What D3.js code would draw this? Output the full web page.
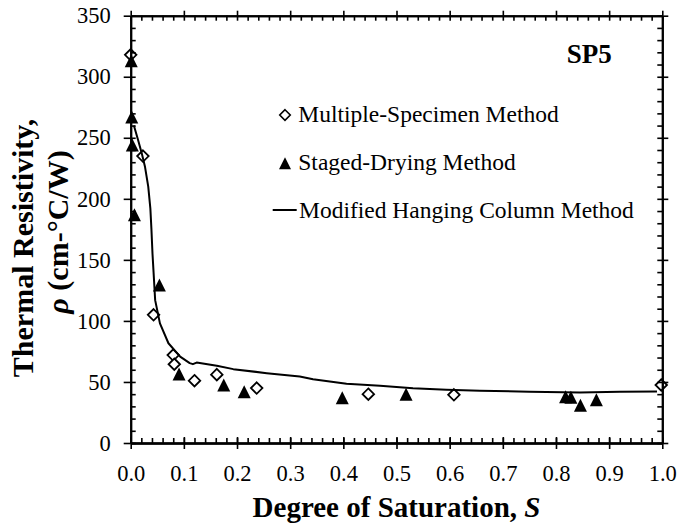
<!DOCTYPE html>
<html>
<head>
<meta charset="utf-8">
<script src="https://cdn.jsdelivr.net/npm/d3@7"></script>
<style>
  html, body { margin: 0; padding: 0; background: #fff; }
  svg { display: block; }
  text { font-family: "Liberation Serif", "Times New Roman", serif; fill: #000; }
</style>
</head>
<body>
<svg id="chart" width="681" height="524"></svg>
<script>
// Thermal resistivity vs. degree of saturation, specimen SP5

// Multiple-Specimen Method (open diamonds)
const msSat = [0.000, 0.023, 0.043, 0.080, 0.082, 0.120, 0.162, 0.237, 0.447, 0.608, 0.998];
const msRho = [318, 235, 105, 72, 64.5, 51, 56, 45, 40, 39.5, 47.5];

// Staged-Drying Method (filled triangles)
const sdSat = [0.001, 0.002, 0.003, 0.007, 0.054, 0.091, 0.175, 0.2135, 0.398, 0.518, 0.818, 0.828, 0.846, 0.876];
const sdRho = [313, 267, 244, 187, 129.5, 56.5, 47.5, 42, 37, 40, 37.8, 37.4, 31, 35.5];

// Modified Hanging Column Method (continuous curve)
const mhcSat = [0.006, 0.014, 0.021, 0.027, 0.033, 0.037, 0.039, 0.041, 0.043, 0.046, 0.055,
                0.071, 0.093, 0.111, 0.117, 0.124, 0.162, 0.193, 0.256, 0.318, 0.343, 0.406,
                0.469, 0.531, 0.594, 0.657, 0.750, 0.845, 0.920, 0.990];
const mhcRho = [260, 248, 237, 226, 210, 192, 175, 155, 140, 117, 98,
                81.7, 70.8, 65.4, 64.6, 65.9, 63.2, 60.5, 57.2, 54.4, 52.3, 48.5,
                46.8, 44.9, 43.6, 42.8, 42.0, 41.4, 42.0, 42.2];

// Axis ticks
const xMajor = [0, 0.1, 0.2, 0.3, 0.4, 0.5, 0.6, 0.7, 0.8, 0.9, 1.0];
const xMinor = d3.range(0, 51).map(i => i / 50);
const yMajor = [0, 50, 100, 150, 200, 250, 300, 350];
const yMinor = d3.range(0, 36).map(i => i * 10);

const svg = d3.select("#chart");
const plotLeft = 130.7, plotRight = 662.3, plotTop = 15.7, plotBottom = 443;

const x = d3.scaleLinear().domain([0, 1]).range([plotLeft, plotRight]);
const y = d3.scaleLinear().domain([0, 350]).range([plotBottom, plotTop]);

// Marker shapes centred on their bounding box
const triangleType = {
  draw(ctx, size) {
    const w = Math.sqrt(size);
    ctx.moveTo(0, -w / 2);
    ctx.lineTo(w / 2, w / 2);
    ctx.lineTo(-w / 2, w / 2);
    ctx.closePath();
  }
};
const diamondType = {
  draw(ctx, size) {
    const w = Math.sqrt(size);
    ctx.moveTo(0, -w / 2);
    ctx.lineTo(w / 2, 0);
    ctx.lineTo(0, w / 2);
    ctx.lineTo(-w / 2, 0);
    ctx.closePath();
  }
};
const diamondPath = d3.symbol().type(diamondType).size(11.5 * 11.5)();
const trianglePath = d3.symbol().type(triangleType).size(13 * 13)();

// Diamonds
svg.append("g").selectAll("path")
  .data(d3.zip(msSat, msRho))
  .join("path")
  .attr("d", diamondPath)
  .attr("transform", d => `translate(${x(d[0])},${y(d[1])})`)
  .attr("fill", "#fff")
  .attr("stroke", "#000")
  .attr("stroke-width", 1.8);

// Triangles
svg.append("g").selectAll("path")
  .data(d3.zip(sdSat, sdRho))
  .join("path")
  .attr("d", trianglePath)
  .attr("transform", d => `translate(${x(d[0])},${y(d[1])})`)
  .attr("fill", "#000");

// Curve
const line = d3.line().x(d => x(d[0])).y(d => y(d[1]));
svg.append("path")
  .datum(d3.zip(mhcSat, mhcRho))
  .attr("d", line)
  .attr("fill", "none")
  .attr("stroke", "#000")
  .attr("stroke-width", 2)
  .attr("stroke-linejoin", "round");

// Axes: major ticks cross the frame, minor ticks point inward
function styleAxis(g) {
  g.selectAll("path.domain").attr("stroke", "#000").attr("stroke-width", 2);
  g.selectAll(".tick line").attr("stroke", "#000").attr("stroke-width", 1.6);
}
const fmtX = d3.format(".1f");
const serif = "Liberation Serif, Times New Roman, serif";

// bottom
svg.append("g").attr("transform", `translate(0,${plotBottom})`)
  .call(d3.axisBottom(x).tickValues(xMajor).tickSize(6).tickSizeOuter(0).tickPadding(16).tickFormat(fmtX))
  .call(styleAxis)
  .call(g => g.selectAll("text").attr("font-size", 22.5).attr("font-family", serif));
svg.append("g").attr("transform", `translate(0,${plotBottom})`)
  .call(d3.axisTop(x).tickValues(xMajor).tickSize(6).tickSizeOuter(0).tickFormat(""))
  .call(styleAxis);
svg.append("g").attr("transform", `translate(0,${plotBottom})`)
  .call(d3.axisTop(x).tickValues(xMinor).tickSize(5).tickSizeOuter(0).tickFormat(""))
  .call(styleAxis);

// top
svg.append("g").attr("transform", `translate(0,${plotTop})`)
  .call(d3.axisTop(x).tickValues(xMajor).tickSize(5).tickSizeOuter(0).tickFormat(""))
  .call(styleAxis);
svg.append("g").attr("transform", `translate(0,${plotTop})`)
  .call(d3.axisBottom(x).tickValues(xMinor).tickSize(5).tickSizeOuter(0).tickFormat(""))
  .call(styleAxis);

// left
svg.append("g").attr("transform", `translate(${plotLeft},0)`)
  .call(d3.axisLeft(y).tickValues(yMajor).tickSize(7).tickSizeOuter(0).tickPadding(13))
  .call(styleAxis)
  .call(g => g.selectAll("text").attr("font-size", 22.5).attr("font-family", serif));
svg.append("g").attr("transform", `translate(${plotLeft},0)`)
  .call(d3.axisRight(y).tickValues(yMinor).tickSize(5).tickSizeOuter(0).tickFormat(""))
  .call(styleAxis);

// right
svg.append("g").attr("transform", `translate(${plotRight},0)`)
  .call(d3.axisRight(y).tickValues(yMajor).tickSize(6).tickSizeOuter(0).tickFormat(""))
  .call(styleAxis);
svg.append("g").attr("transform", `translate(${plotRight},0)`)
  .call(d3.axisLeft(y).tickValues(yMinor).tickSize(5).tickSizeOuter(0).tickFormat(""))
  .call(styleAxis);

// Axis titles
const xt = svg.append("text")
  .attr("x", (plotLeft + plotRight) / 2).attr("y", 517)
  .attr("text-anchor", "middle")
  .attr("font-size", 29).attr("font-weight", "bold");
xt.append("tspan").text("Degree of Saturation, ");
xt.append("tspan").attr("font-style", "italic").text("S");

svg.append("text")
  .attr("transform", "translate(33,248) rotate(-90)")
  .attr("text-anchor", "middle")
  .attr("font-size", 30).attr("font-weight", "bold")
  .text("Thermal Resistivity,");
const yt2 = svg.append("text")
  .attr("transform", "translate(68,232) rotate(-90)")
  .attr("text-anchor", "middle")
  .attr("font-size", 30).attr("font-weight", "bold");
yt2.append("tspan").attr("font-style", "italic").text("ρ");
yt2.append("tspan").text(" (cm-°C/W)");

// Specimen label
svg.append("text")
  .attr("x", 611.7).attr("y", 63.3)
  .attr("text-anchor", "end")
  .attr("font-size", 27).attr("font-weight", "bold")
  .text("SP5");

// Legend
const lg = svg.append("g");
lg.append("path").attr("d", d3.symbol().type(diamondType).size(10.5 * 10.5)())
  .attr("transform", "translate(285,115)")
  .attr("fill", "#fff").attr("stroke", "#000").attr("stroke-width", 1.6);
lg.append("text").attr("x", 298.3).attr("y", 121.7).attr("font-size", 23.5)
  .text("Multiple-Specimen Method");
lg.append("path").attr("d", d3.symbol().type(triangleType).size(12 * 12)())
  .attr("transform", "translate(285,163.3)")
  .attr("fill", "#000");
lg.append("text").attr("x", 298.3).attr("y", 170).attr("font-size", 23.5)
  .text("Staged-Drying Method");
lg.append("line").attr("x1", 272.7).attr("x2", 296.7).attr("y1", 210).attr("y2", 210)
  .attr("stroke", "#000").attr("stroke-width", 2);
lg.append("text").attr("x", 299).attr("y", 218.3).attr("font-size", 23.5)
  .text("Modified Hanging Column Method");
</script>
</body>
</html>
